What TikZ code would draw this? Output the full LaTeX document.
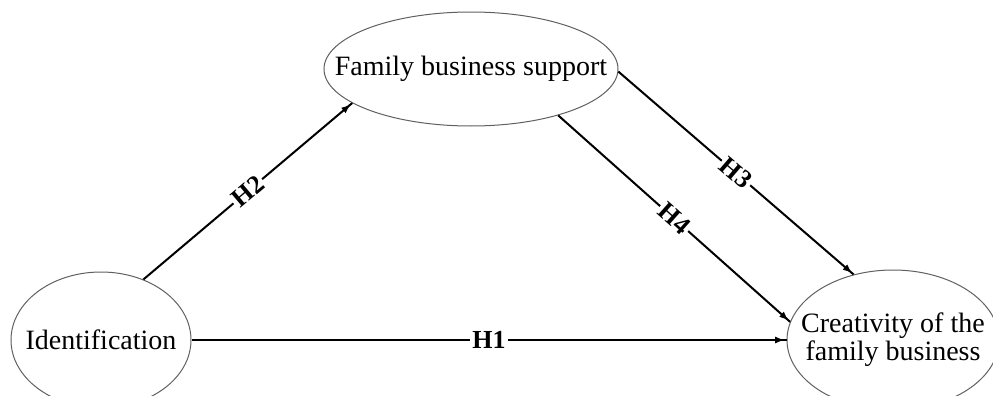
\documentclass[tikz,border=0pt]{standalone}
\usepackage{fontspec}
\setmainfont{Liberation Serif}
\usetikzlibrary{
  positioning, shapes.geometric, arrows.meta, decorations.markings}
\tikzset{
    Arrow/.style = {
        line width=1pt,
        decoration={
            markings,
            mark=at position 1 with {
                \arrow[#1]{Latex[length=6pt, width=4.5pt]}
                }
            },
        preaction = {decorate}
    },
    Arrow/.default={black},
    Latent/.style = {ellipse, draw=ellGray, line width=0.5pt, inner sep=0pt},
    Hyp/.style = {fill=white, inner sep=1pt, sloped, pos=0.5,
        font=\fontsize{13}{13}\selectfont\bfseries}
}
\definecolor{ellGray}{HTML}{606060}

\begin{document}
\begin{tikzpicture}[x=0.5pt, y=-0.5pt,
    every node/.append style={font=\fontsize{14}{12.5}\selectfont}]
    \useasboundingbox (0,0) rectangle (993,396);
    \node [Latent, minimum width=90pt, minimum height=68pt,
        label={center:Identification}] (I) at (101,340) {};
    \node [Latent, minimum width=147pt, minimum height=57pt,
        label={center:Family business support}] (S) at (471,69) {};
    \node [Latent, minimum width=106pt, minimum height=70pt,
        label={[align=center]center:Creativity of the\\family business}] (C) at (893,340) {};
    \draw [Arrow] (I) to node[Hyp] {H1} (C);
    \draw [Arrow] (I.55) to node[Hyp] {H2} (S.196);
    \draw [Arrow] (S.-1) to node[Hyp] {H3} (C.121);
    \draw [Arrow] (S.-28) to node[Hyp] {H4} (C.170);
\end{tikzpicture}
\end{document}
